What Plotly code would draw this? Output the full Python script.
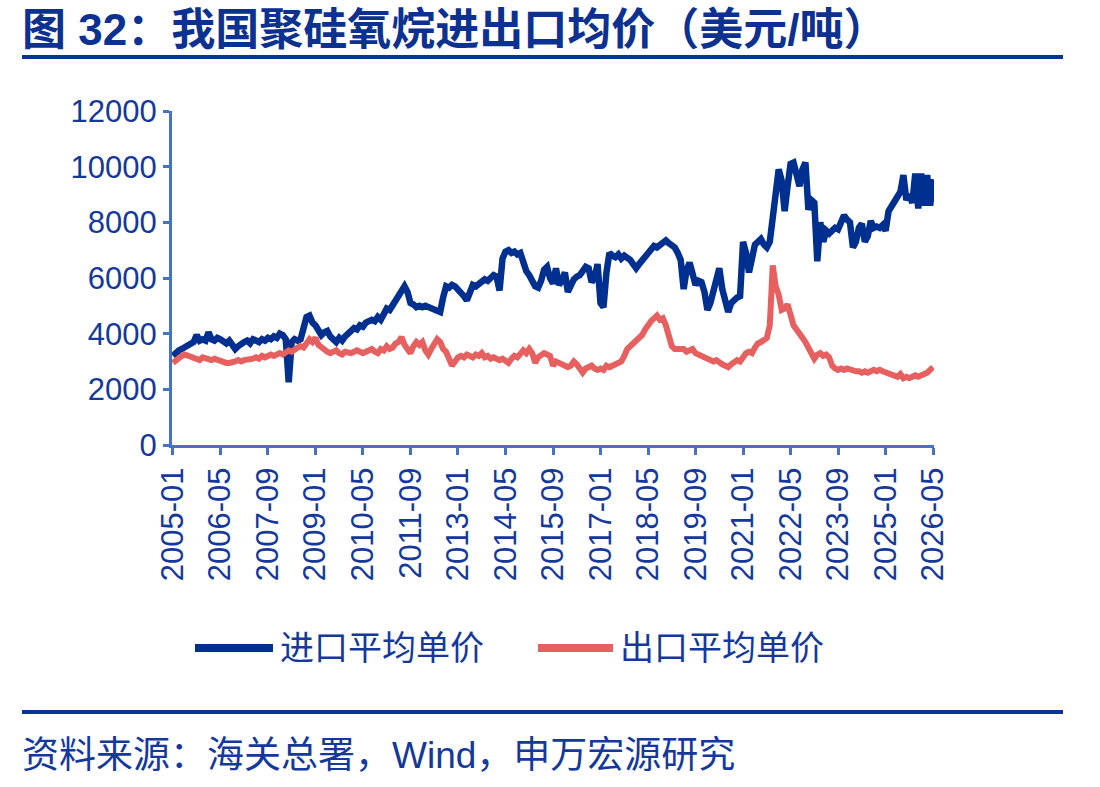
import pandas as pd
import plotly.graph_objects as go

# Monthly categories 2005-01 .. 2026-05
months = pd.date_range("2005-01-01", "2026-05-01", freq="MS").strftime("%Y-%m").tolist()

import_price = [
    3200,3350,3400,3450,3500,3550,3600,3700,3950,3750,3800,3750,  # 2005
    4050,3800,3750,3850,3800,3700,3650,3750,3600,3450,3550,3650,  # 2006
    3700,3750,3650,3800,3750,3700,3800,3750,3850,3800,3900,3850,  # 2007
    4000,3950,3800,2250,3700,3800,3750,3800,4200,4600,4650,4400,  # 2008
    4300,4100,3950,4050,4100,3900,3800,3700,3850,3750,3900,4050,  # 2009
    4100,4200,4150,4300,4250,4400,4450,4500,4450,4600,4500,4700,  # 2010
    4900,4850,5000,5200,5300,5450,5700,5500,5100,5050,4950,5000,  # 2011
    4950,5000,4950,4950,4900,4850,4780,5300,5700,5650,5750,5700,  # 2012
    5600,5500,5350,5200,5450,5750,5700,5800,5850,5950,5900,6000,  # 2013
    6100,6050,5550,6700,6950,7000,6900,6950,6850,6900,6500,6250,  # 2014
    6100,5900,5700,5650,5900,6300,6400,6000,5800,6350,5750,5900,  # 2015
    6200,5500,5800,5950,6050,6100,6250,6400,6350,5850,6000,6500,  # 2016
    5100,4950,6200,6900,6800,6750,6850,6700,6800,6750,6650,6500,  # 2017
    6350,6500,6650,6800,6850,7000,7150,7100,7200,7300,7350,7250,  # 2018
    7200,7100,6900,6650,5600,6300,6550,6200,5750,5900,5850,5500,  # 2019
    4850,5100,5500,6000,6350,5600,5200,4780,5100,5250,5300,5350,  # 2020
    7300,6900,6200,6700,7200,7300,7400,7200,7100,7300,8200,9000,  # 2021
    9900,9500,8400,9300,10100,10150,9600,9300,9900,10150,8450,8800,  # 2022
    8700,6600,8000,7300,7700,7600,7700,7800,7750,8000,8250,8100,  # 2023
    8000,7100,7300,7800,7950,7300,7500,8050,7800,7850,7800,7900,  # 2024
    7700,8400,8600,8800,8900,9100,9700,8800,9000,8700,9750,8500,  # 2025
    9750,8600,9700,8600,9550,                                      # 2026
]

export_price = [
    2950,3050,3150,3200,3250,3200,3150,3100,3100,3050,3150,3100,  # 2005
    3100,3050,3100,3050,3000,3000,2950,2950,2950,3000,3050,3000,  # 2006
    3050,3050,3100,3100,3150,3100,3200,3150,3200,3250,3200,3250,  # 2007
    3300,3250,3350,3400,3350,3450,3500,3550,3500,3650,3800,3700,  # 2008
    3850,3600,3500,3400,3350,3300,3350,3400,3300,3250,3350,3300,  # 2009
    3300,3350,3400,3350,3300,3350,3400,3450,3350,3300,3450,3400,  # 2010
    3550,3450,3500,3650,3700,3880,3600,3450,3300,3550,3700,3600,  # 2011
    3700,3400,3250,3450,3600,3800,3700,3450,3350,3050,2850,3000,  # 2012
    3150,3200,3150,3250,3200,3150,3250,3200,3300,3150,3200,3100,  # 2013
    3150,3100,3050,3100,3050,2950,3100,3200,3150,3250,3400,3300,  # 2014
    3450,3300,2950,3150,3250,3300,3250,3200,2850,3000,2950,2900,  # 2015
    2850,2800,2850,3000,2900,2750,2600,2750,2800,2850,2750,2700,  # 2016
    2750,2700,2850,2800,2850,2900,2950,3000,3200,3450,3550,3650,  # 2017
    3750,3800,3950,4150,4350,4450,4550,4650,4500,4550,4300,3800,  # 2018
    3550,3450,3450,3400,3450,3350,3400,3450,3300,3250,3200,3150,  # 2019
    3100,3050,3000,3050,2950,2900,2850,2800,2900,2950,3050,3000,  # 2020
    3200,3300,3350,3300,3500,3650,3700,3750,3850,4300,6450,5700,  # 2021
    5400,4850,4900,5050,4700,4300,4150,3950,3850,3700,3500,3250,  # 2022
    3100,3250,3300,3200,3250,3150,2850,2750,2700,2750,2700,2750,  # 2023
    2700,2700,2650,2650,2600,2650,2600,2650,2700,2650,2700,2650,  # 2024
    2600,2550,2500,2500,2450,2550,2400,2450,2400,2450,2500,2450,  # 2025
    2500,2500,2600,2700,2800,                                      # 2026
]

series_names = ["进口平均单价", "出口平均单价"]
y_ticks = [0, 2000, 4000, 6000, 8000, 10000, 12000]
y_tick_text = ["0", "2000", "4000", "6000", "8000", "10000", "12000"]
x_ticks = months[::16]

title_text = "图 32：我国聚硅氧烷进出口均价（美元/吨）"
source_text = "资料来源：海关总署，Wind，申万宏源研究"

BLUE = "#00308F"
RED = "#E5605F"
AXIS = "#4472C4"
TXT = "#15399A"
TITLE_C = "#0D3190"
FONT = "Liberation Sans, Arial, Noto Sans CJK SC"

W, H = 1100, 787
L, R, T, B = 172, 934, 111, 445

def px(x):
    return (x - L) / (R - L)

def py(y):
    return (B - y) / (B - T)

fig = go.Figure()
fig.add_trace(go.Scatter(x=months, y=import_price, mode="lines", name=series_names[0],
                         line=dict(color=BLUE, width=6.5), showlegend=False))
fig.add_trace(go.Scatter(x=months, y=export_price, mode="lines", name=series_names[1],
                         line=dict(color=RED, width=6), showlegend=False))

fig.update_layout(
    width=W, height=H,
    margin=dict(l=L, r=W - R, t=T, b=H - B, pad=0),
    paper_bgcolor="white", plot_bgcolor="white",
    font=dict(family=FONT, color=TXT),
    xaxis=dict(type="category", range=[-0.3, len(months) - 0.7],
               tickmode="array", tickvals=x_ticks, ticktext=x_ticks,
               tickangle=-90, tickfont=dict(size=31, color=TXT, family=FONT),
               showline=True, linecolor=AXIS, linewidth=3,
               ticks="outside", tickcolor=AXIS, ticklen=7, tickwidth=2.5,
               showgrid=False, zeroline=False),
    yaxis=dict(range=[0, 12000], tickmode="array", tickvals=y_ticks, ticktext=y_tick_text,
               tickfont=dict(size=31, color=TXT, family=FONT),
               showline=True, linecolor=AXIS, linewidth=3,
               ticks="outside", tickcolor=AXIS, ticklen=6, tickwidth=2.5,
               showgrid=False, zeroline=False),
    showlegend=False,
)

shapes = []
# title underline and footer line
shapes.append(dict(type="line", xref="paper", yref="paper", x0=px(22), x1=px(1063), y0=py(57), y1=py(57),
                   line=dict(color="#0A3494", width=4)))
shapes.append(dict(type="line", xref="paper", yref="paper", x0=px(22), x1=px(1063), y0=py(712), y1=py(712),
                   line=dict(color="#0A3494", width=4)))
# legend swatches
shapes.append(dict(type="line", xref="paper", yref="paper", x0=px(195), x1=px(273), y0=py(648), y1=py(648),
                   line=dict(color=BLUE, width=8)))
shapes.append(dict(type="line", xref="paper", yref="paper", x0=px(538), x1=px(613), y0=py(648), y1=py(648),
                   line=dict(color=RED, width=8)))
fig.update_layout(shapes=shapes)

annotations = [
    dict(text="<b>" + title_text + "</b>", x=px(20), y=py(30), xref="paper", yref="paper",
         xanchor="left", yanchor="middle", showarrow=False,
         font=dict(size=44, color=TITLE_C, family=FONT)),
    dict(text=series_names[0], x=px(278), y=py(648), xref="paper", yref="paper",
         xanchor="left", yanchor="middle", showarrow=False,
         font=dict(size=34, color=TXT, family=FONT)),
    dict(text=series_names[1], x=px(618), y=py(648), xref="paper", yref="paper",
         xanchor="left", yanchor="middle", showarrow=False,
         font=dict(size=34, color=TXT, family=FONT)),
    dict(text=source_text, x=px(20), y=py(755), xref="paper", yref="paper",
         xanchor="left", yanchor="middle", showarrow=False,
         font=dict(size=37, color=TXT, family=FONT)),
]
fig.update_layout(annotations=annotations)

fig.write_html("out.html")
